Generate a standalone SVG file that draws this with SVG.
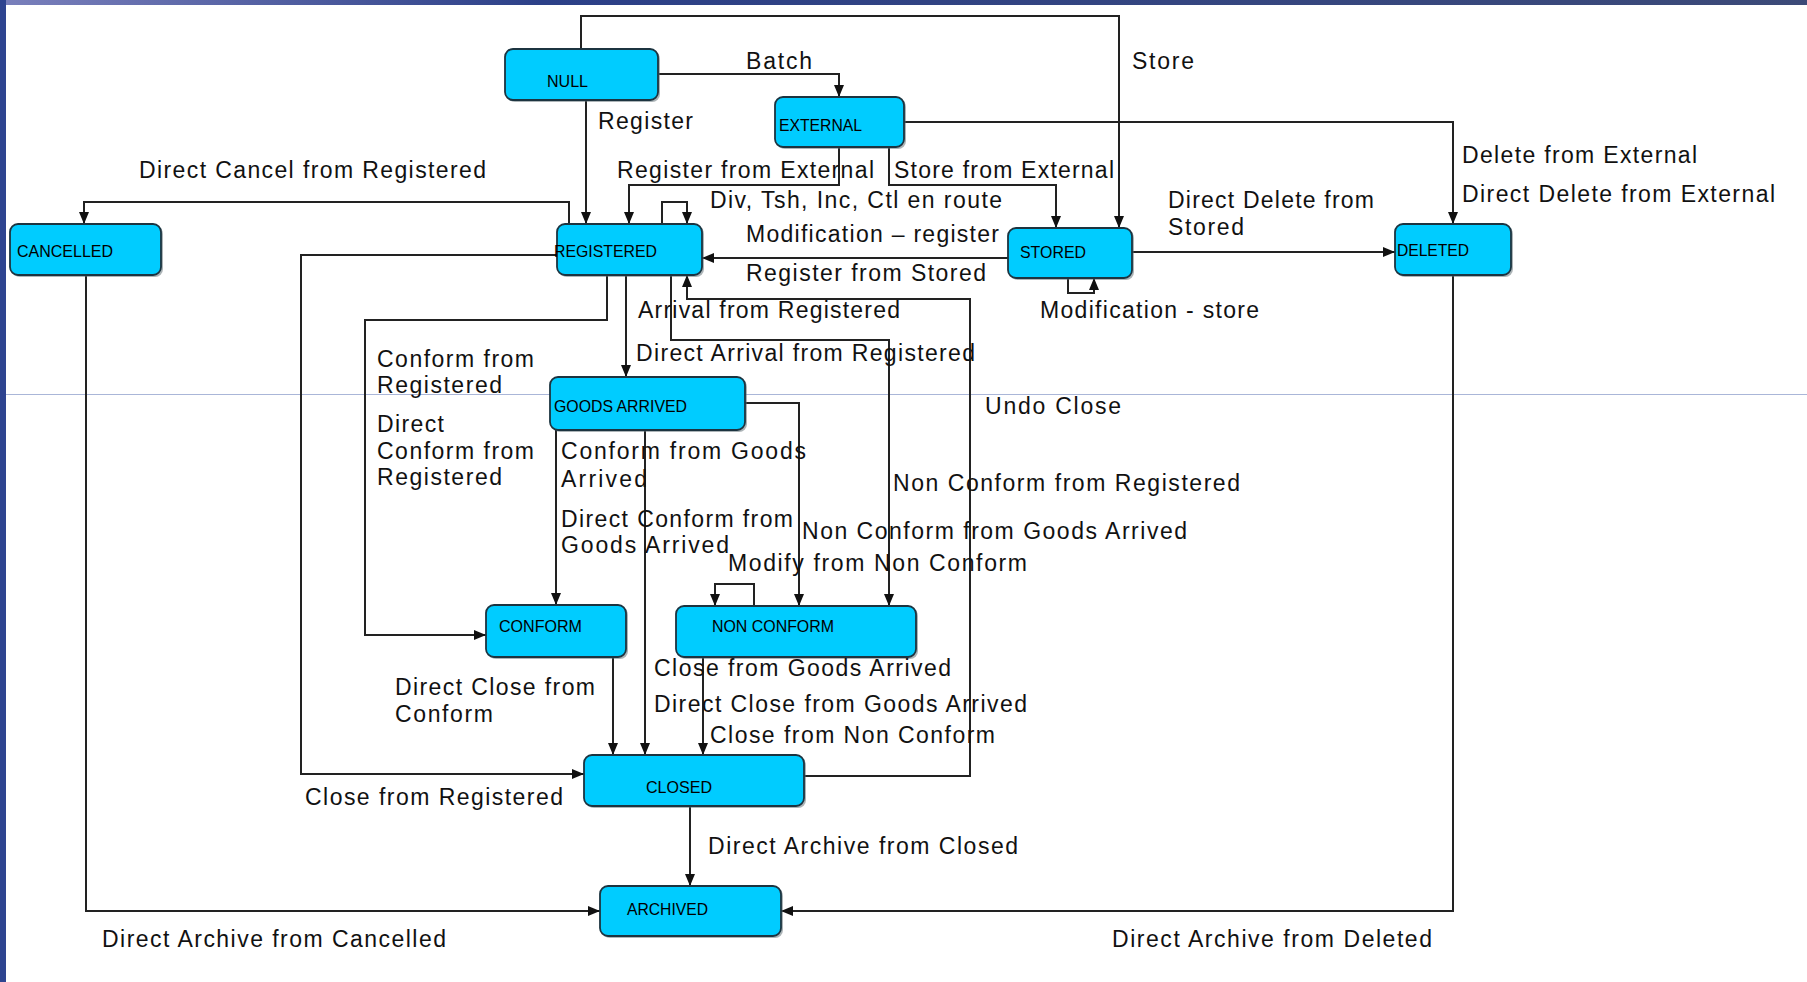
<svg xmlns="http://www.w3.org/2000/svg" width="1807" height="982" viewBox="0 0 1807 982">
<defs>
<linearGradient id="topbar" x1="0" y1="0" x2="1" y2="0">
<stop offset="0" stop-color="#7a80bc"/>
<stop offset="0.3" stop-color="#2c4088"/>
<stop offset="1" stop-color="#3c4a78"/>
</linearGradient>
<marker id="arr" viewBox="0 0 12 10" markerWidth="12" markerHeight="10" refX="12" refY="5" orient="auto" markerUnits="userSpaceOnUse">
<path d="M0,0 L12,5 L0,10 z" fill="#111"/>
</marker>
<style>
.node rect.sh{fill:#5a6a70;opacity:0.5}
.node rect.b{fill:#00ccff;stroke:#1c3440;stroke-width:1.8}
.node text{font-family:"Liberation Sans",Arial,sans-serif;font-size:17px;fill:#000}
.lbl{font-family:"Liberation Sans",Arial,sans-serif;font-size:23px;fill:#111}
#connectors path{fill:none;stroke:#222;stroke-width:2}
#connectors path.a{marker-end:url(#arr)}
</style>
</defs>
<rect x="0" y="0" width="1807" height="982" fill="#ffffff"/>
<rect x="0" y="0" width="1807" height="5" fill="url(#topbar)"/>
<rect x="0" y="0" width="6" height="982" fill="#2e4490"/>
<line x1="6" y1="394.5" x2="1807" y2="394.5" stroke="#aab6d8" stroke-width="1"/>

<g id="connectors">
<path class="a" d="M581,49 V16 H1119 V228"/>
<path class="a" d="M659,74 H839 V97"/>
<path class="a" d="M586,100 V224"/>
<path class="a" d="M904,122 H1453 V224"/>
<path class="a" d="M839,147 V185 H629 V224"/>
<path class="a" d="M889,147 V185 H1056 V228"/>
<path class="a" d="M662,224 V202 H687 V224"/>
<path class="a" d="M569,224 V202 H84 V224"/>
<path class="a" d="M1008,258 H702"/>
<path class="a" d="M1132,252 H1395"/>
<path class="a" d="M1068,278 V293 H1094 V278"/>
<path class="a" d="M804,776 H970 V299 H687 V275"/>
<path class="a" d="M671,275 V340 H889 V606"/>
<path class="a" d="M626,275 V377"/>
<path class="a" d="M607,275 V320 H365 V635 H486"/>
<path class="a" d="M557,255 H301 V774 H584"/>
<path class="a" d="M86,275 V911 H600"/>
<path class="a" d="M1453,275 V911 H781"/>
<path class="a" d="M690,806 V886"/>
<path class="a" d="M556,430 V605"/>
<path class="a" d="M645,430 V755"/>
<path class="a" d="M745,403 H799 V606"/>
<path class="a" d="M754,606 V584 H715 V606"/>
<path class="a" d="M613,657 V755"/>
<path class="a" d="M703,657 V755"/>
</g>

<g id="node-null" class="node"><rect class="sh" x="507" y="51" width="153" height="51" rx="8"/><rect class="b" x="505" y="49" width="153" height="51" rx="8"/><text x="547" y="87" textLength="41" lengthAdjust="spacingAndGlyphs">NULL</text></g>
<g id="node-external" class="node"><rect class="sh" x="777" y="99" width="129" height="50" rx="8"/><rect class="b" x="775" y="97" width="129" height="50" rx="8"/><text x="779" y="131" textLength="83" lengthAdjust="spacingAndGlyphs">EXTERNAL</text></g>
<g id="node-registered" class="node"><rect class="sh" x="559" y="226" width="145" height="51" rx="8"/><rect class="b" x="557" y="224" width="145" height="51" rx="8"/><text x="554" y="257" textLength="103" lengthAdjust="spacingAndGlyphs">REGISTERED</text></g>
<g id="node-stored" class="node"><rect class="sh" x="1010" y="230" width="124" height="50" rx="8"/><rect class="b" x="1008" y="228" width="124" height="50" rx="8"/><text x="1020" y="258" textLength="66" lengthAdjust="spacingAndGlyphs">STORED</text></g>
<g id="node-deleted" class="node"><rect class="sh" x="1397" y="226" width="116" height="51" rx="8"/><rect class="b" x="1395" y="224" width="116" height="51" rx="8"/><text x="1397" y="256" textLength="72" lengthAdjust="spacingAndGlyphs">DELETED</text></g>
<g id="node-cancelled" class="node"><rect class="sh" x="12" y="226" width="151" height="51" rx="8"/><rect class="b" x="10" y="224" width="151" height="51" rx="8"/><text x="17" y="257" textLength="96" lengthAdjust="spacingAndGlyphs">CANCELLED</text></g>
<g id="node-goods-arrived" class="node"><rect class="sh" x="552" y="379" width="195" height="53" rx="8"/><rect class="b" x="550" y="377" width="195" height="53" rx="8"/><text x="554" y="412" textLength="133" lengthAdjust="spacingAndGlyphs">GOODS ARRIVED</text></g>
<g id="node-conform" class="node"><rect class="sh" x="488" y="607" width="140" height="52" rx="8"/><rect class="b" x="486" y="605" width="140" height="52" rx="8"/><text x="499" y="632" textLength="83" lengthAdjust="spacingAndGlyphs">CONFORM</text></g>
<g id="node-non-conform" class="node"><rect class="sh" x="678" y="608" width="240" height="51" rx="8"/><rect class="b" x="676" y="606" width="240" height="51" rx="8"/><text x="712" y="632" textLength="122" lengthAdjust="spacingAndGlyphs">NON CONFORM</text></g>
<g id="node-closed" class="node"><rect class="sh" x="586" y="757" width="220" height="51" rx="8"/><rect class="b" x="584" y="755" width="220" height="51" rx="8"/><text x="646" y="793" textLength="66" lengthAdjust="spacingAndGlyphs">CLOSED</text></g>
<g id="node-archived" class="node"><rect class="sh" x="602" y="888" width="181" height="50" rx="8"/><rect class="b" x="600" y="886" width="181" height="50" rx="8"/><text x="627" y="915" textLength="81" lengthAdjust="spacingAndGlyphs">ARCHIVED</text></g>

<g id="labels">
<text class="lbl" x="746" y="69" textLength="66">Batch</text>
<text class="lbl" x="1132" y="69" textLength="62">Store</text>
<text class="lbl" x="598" y="129" textLength="95">Register</text>
<text class="lbl" x="139" y="178" textLength="347">Direct Cancel from Registered</text>
<text class="lbl" x="617" y="178" textLength="257">Register from External</text>
<text class="lbl" x="894" y="178" textLength="220">Store from External</text>
<text class="lbl" x="710" y="208" textLength="292">Div, Tsh, Inc, Ctl en route</text>
<text class="lbl" x="746" y="242" textLength="253">Modification – register</text>
<text class="lbl" x="746" y="281" textLength="240">Register from Stored</text>
<text class="lbl" x="638" y="318" textLength="262">Arrival from Registered</text>
<text class="lbl" x="1040" y="318" textLength="219">Modification - store</text>
<text class="lbl" x="1168" y="208" textLength="206">Direct Delete from</text>
<text class="lbl" x="1168" y="235" textLength="76">Stored</text>
<text class="lbl" x="1462" y="163" textLength="235">Delete from External</text>
<text class="lbl" x="1462" y="202" textLength="313">Direct Delete from External</text>
<text class="lbl" x="636" y="361" textLength="339">Direct Arrival from Registered</text>
<text class="lbl" x="377" y="367" textLength="157">Conform from</text>
<text class="lbl" x="377" y="393" textLength="125">Registered</text>
<text class="lbl" x="377" y="432" textLength="67">Direct</text>
<text class="lbl" x="377" y="459" textLength="157">Conform from</text>
<text class="lbl" x="377" y="485" textLength="125">Registered</text>
<text class="lbl" x="561" y="459" textLength="245">Conform from Goods</text>
<text class="lbl" x="561" y="487" textLength="86">Arrived</text>
<text class="lbl" x="561" y="527" textLength="232">Direct Conform from</text>
<text class="lbl" x="561" y="553" textLength="168">Goods Arrived</text>
<text class="lbl" x="985" y="414" textLength="136">Undo Close</text>
<text class="lbl" x="893" y="491" textLength="347">Non Conform from Registered</text>
<text class="lbl" x="802" y="539" textLength="385">Non Conform from Goods Arrived</text>
<text class="lbl" x="728" y="571" textLength="299">Modify from Non Conform</text>
<text class="lbl" x="654" y="676" textLength="297">Close from Goods Arrived</text>
<text class="lbl" x="654" y="712" textLength="373">Direct Close from Goods Arrived</text>
<text class="lbl" x="710" y="743" textLength="285">Close from Non Conform</text>
<text class="lbl" x="395" y="695" textLength="200">Direct Close from</text>
<text class="lbl" x="395" y="722" textLength="98">Conform</text>
<text class="lbl" x="305" y="805" textLength="258">Close from Registered</text>
<text class="lbl" x="708" y="854" textLength="310">Direct Archive from Closed</text>
<text class="lbl" x="102" y="947" textLength="344">Direct Archive from Cancelled</text>
<text class="lbl" x="1112" y="947" textLength="320">Direct Archive from Deleted</text>
</g>
</svg>
